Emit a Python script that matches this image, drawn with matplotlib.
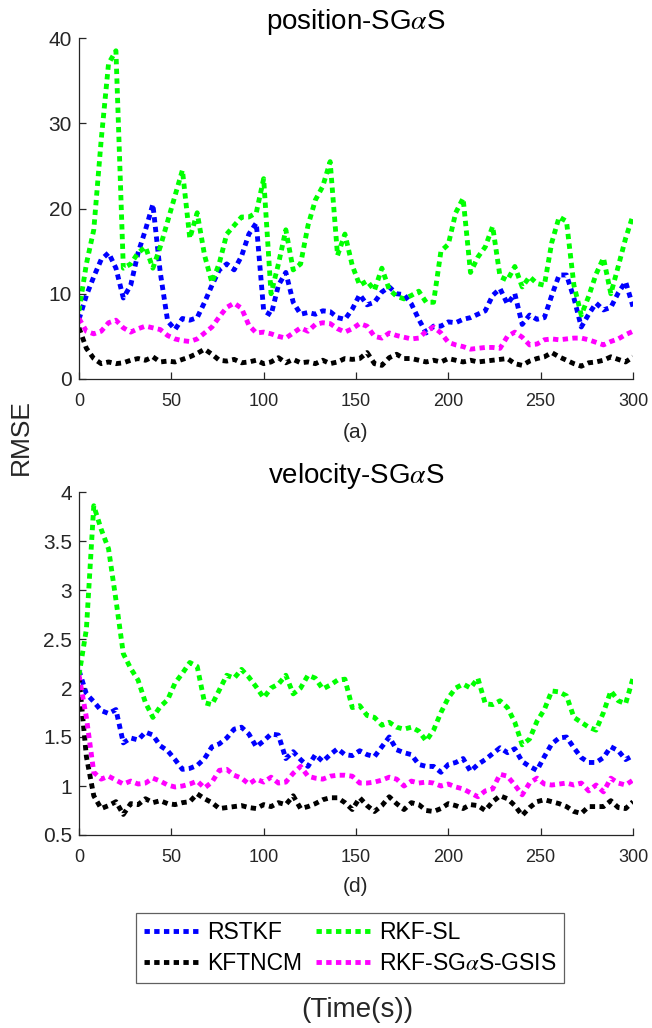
import matplotlib
matplotlib.use("Agg")
import matplotlib.pyplot as plt
from matplotlib.ticker import FormatStrFormatter
import numpy as np

plt.rcParams["font.family"] = ["Liberation Sans", "DejaVu Sans"]
plt.rcParams["mathtext.fontset"] = "stix"

# time axis (s), one sample every 4 s
t = np.arange(0, 301, 4)

# ---- position RMSE ----
pos_rstkf = [
    7, 9.8, 12, 14, 14.8, 13, 9.5, 11, 14.8, 17.5,
    20.5, 12.5, 6.8, 5.8, 7.1, 6.9, 7.2, 9, 11, 12.8,
    13.5, 12.8, 14.4, 17, 18.3, 8, 7.5, 11, 12.5, 9,
    7.6, 7.8, 7.6, 8, 7.9, 7.2, 7, 8.2, 9.9, 8.7,
    9, 10.2, 10.8, 10, 9.9, 8.8, 7, 5.4, 6.2, 6.2,
    6.7, 6.6, 7, 7.2, 7.6, 8, 9.8, 10.6, 8.8, 10,
    6.4, 7.5, 7, 7.2, 9.8, 12.2, 12.2, 9.5, 6.1, 7.6,
    8.9, 8.1, 8.4, 10.1, 11.4, 8.5]
pos_rkfsl = [
    8, 13.5, 17.5, 28, 37, 38.5, 13, 13.5, 14.8, 15.5,
    13, 15.5, 18.5, 21.5, 24.5, 16.5, 19.5, 14.5, 11.3, 13.6,
    17, 18, 19, 19, 19.5, 23.5, 10, 13.5, 17.5, 12.8,
    13.5, 18, 21, 22.6, 25.5, 14.5, 17, 13.3, 11, 11.5,
    10.4, 13, 10.5, 9.7, 9.4, 9.8, 10.3, 9, 9, 15,
    15.8, 19.5, 21.2, 12.5, 14.3, 15.5, 17.9, 12, 11.6, 13.2,
    10.8, 12, 11.2, 11, 16, 19, 18.5, 11, 7.5, 9.7,
    12.3, 14.2, 10, 13.2, 16.5, 19.2]
pos_kftncm = [
    6.0, 3.6, 2.4, 1.8, 2.0, 1.8, 1.9, 2.2, 2.4, 2.2,
    2.6, 2.0, 2.1, 2.0, 2.3, 2.6, 3.0, 3.5, 2.9, 2.2,
    2.1, 2.3, 1.9, 2.0, 2.2, 1.8, 2.0, 2.5, 1.9, 2.3,
    1.9, 2.0, 1.8, 2.2, 1.8, 2.0, 2.4, 2.3, 2.4, 3.1,
    1.8, 1.6, 2.5, 2.9, 2.4, 2.4, 2.2, 2.0, 2.2, 2.0,
    2.4, 2.2, 2.0, 2.2, 2.0, 2.1, 2.2, 2.3, 2.4, 1.8,
    1.6, 2.1, 2.4, 2.6, 3.1, 2.6, 2.2, 1.8, 1.5, 1.9,
    2.0, 2.2, 2.6, 2.3, 2.0, 2.6]
pos_gsis = [
    7.1, 5.6, 5.3, 5.6, 6.6, 6.9, 6.0, 5.5, 5.9, 6.2,
    6.0, 5.8, 5.1, 4.7, 4.5, 4.4, 4.7, 5.4, 6.1, 7.3,
    8.4, 8.9, 8.3, 6.3, 5.4, 5.5, 5.3, 5.0, 4.8, 5.4,
    6.0, 5.6, 6.4, 6.6, 6.5, 5.9, 5.5, 5.9, 6.5, 6.2,
    5.0, 4.8, 5.4, 5.1, 4.9, 4.7, 4.8, 5.6, 6.1, 5.4,
    4.3, 4.0, 3.8, 3.5, 3.6, 3.7, 3.7, 3.6, 5.0, 5.5,
    4.9, 4.0, 4.1, 4.6, 4.7, 4.6, 4.7, 4.8, 4.8, 4.6,
    4.3, 4.0, 4.4, 4.7, 5.2, 5.6]

# ---- velocity RMSE ----
vel_rstkf = [
    2.18, 1.94, 1.86, 1.77, 1.74, 1.78, 1.44, 1.49, 1.47, 1.55,
    1.52, 1.41, 1.36, 1.27, 1.17, 1.18, 1.21, 1.28, 1.40, 1.43,
    1.49, 1.58, 1.60, 1.53, 1.40, 1.46, 1.53, 1.52, 1.28, 1.35,
    1.27, 1.20, 1.32, 1.25, 1.32, 1.38, 1.32, 1.31, 1.36, 1.32,
    1.30, 1.40, 1.50, 1.37, 1.34, 1.32, 1.22, 1.20, 1.20, 1.14,
    1.22, 1.24, 1.28, 1.15, 1.22, 1.27, 1.33, 1.39, 1.34, 1.38,
    1.25, 1.20, 1.16, 1.30, 1.43, 1.49, 1.50, 1.39, 1.29, 1.24,
    1.24, 1.29, 1.40, 1.36, 1.27, 1.31]
vel_rkfsl = [
    2.13, 2.60, 3.86, 3.62, 3.42, 2.90, 2.35, 2.20, 2.08, 1.85,
    1.70, 1.81, 1.88, 2.05, 2.15, 2.26, 2.22, 1.85, 1.83, 1.98,
    2.13, 2.10, 2.19, 2.11, 2.01, 1.90, 2.00, 2.04, 2.13, 1.94,
    2.00, 2.13, 2.10, 1.99, 2.03, 2.08, 2.09, 1.80, 1.82, 1.72,
    1.70, 1.62, 1.65, 1.60, 1.58, 1.60, 1.56, 1.46, 1.57, 1.75,
    1.90, 2.00, 2.04, 2.00, 2.10, 1.84, 1.83, 1.87, 1.80, 1.65,
    1.42, 1.48, 1.66, 1.78, 1.97, 1.96, 1.92, 1.70, 1.65, 1.60,
    1.57, 1.75, 1.97, 1.87, 1.84, 2.10]
vel_kftncm = [
    2.11, 1.30, 0.90, 0.77, 0.80, 0.84, 0.71, 0.82, 0.81, 0.87,
    0.83, 0.85, 0.82, 0.81, 0.83, 0.84, 0.92, 0.87, 0.83, 0.77,
    0.78, 0.79, 0.80, 0.78, 0.77, 0.81, 0.79, 0.83, 0.81, 0.90,
    0.77, 0.79, 0.82, 0.86, 0.88, 0.88, 0.83, 0.76, 0.88, 0.80,
    0.74, 0.80, 0.89, 0.82, 0.76, 0.83, 0.81, 0.75, 0.74, 0.77,
    0.82, 0.80, 0.77, 0.81, 0.80, 0.75, 0.84, 0.90, 0.87, 0.80,
    0.70, 0.78, 0.84, 0.86, 0.84, 0.82, 0.79, 0.74, 0.72, 0.79,
    0.79, 0.79, 0.85, 0.78, 0.77, 0.84]
vel_gsis = [
    2.13, 1.70, 1.14, 1.07, 1.10, 1.06, 1.02, 1.05, 1.02, 1.03,
    1.08, 1.05, 1.01, 0.99, 1.00, 1.02, 1.05, 0.98, 1.04, 1.16,
    1.17, 1.11, 1.08, 1.02, 1.07, 1.04, 1.09, 1.03, 1.04, 1.13,
    1.20, 1.10, 1.08, 1.07, 1.10, 1.11, 1.11, 1.10, 1.03, 1.03,
    1.04, 1.06, 1.09, 1.07, 1.00, 1.05, 1.03, 1.04, 1.03, 1.00,
    1.02, 0.99, 0.97, 0.93, 0.89, 0.95, 0.97, 1.12, 1.10, 1.01,
    0.91, 1.03, 1.08, 1.02, 1.01, 1.02, 1.03, 1.01, 1.03, 0.95,
    1.01, 0.94, 1.08, 1.03, 1.01, 1.06]

labels = ["RSTKF", "RKF-SL", "KFTNCM", r"RKF-SG$\alpha$S-GSIS"]
colors = ["#0000ff", "#00ff00", "#000000", "#ff00ff"]

TXT = "#262626"
DASH = (0, (1.1, 0.9))

fig = plt.figure(figsize=(6.52, 10.28), dpi=100)
ax1 = fig.add_axes([79 / 652, 1 - 379 / 1028, 554 / 652, 341 / 1028])
ax2 = fig.add_axes([79 / 652, 1 - 835 / 1028, 554 / 652, 343 / 1028])


def draw_panel(ax, series, ylim, yticks, title):
    handles = []
    for y, c, lab in zip(series, colors, labels):
        h, = ax.plot(t, y, color=c, lw=3.5, linestyle=DASH,
                     dash_capstyle="butt", solid_joinstyle="miter", label=lab)
        handles.append(h)
    ax.set_xlim(0, 300)
    ax.set_ylim(*ylim)
    ax.set_xticks(np.arange(0, 301, 50))
    ax.set_yticks(yticks)
    ax.yaxis.set_major_formatter(FormatStrFormatter("%g"))
    for s in ["top", "right"]:
        ax.spines[s].set_visible(False)
    for s in ["left", "bottom"]:
        ax.spines[s].set_color(TXT)
        ax.spines[s].set_linewidth(0.9)
    ax.tick_params(direction="in", length=5, width=0.9, color=TXT,
                   labelcolor=TXT)
    ax.tick_params(axis="x", pad=10, labelsize=13)
    ax.tick_params(axis="y", pad=5, labelsize=15)
    ax.set_title(title, fontsize=20, pad=6.5)
    return handles


handles = draw_panel(ax1, [pos_rstkf, pos_rkfsl, pos_kftncm, pos_gsis],
                     (0, 40), np.arange(0, 41, 10), r"position-SG$\alpha$S")
draw_panel(ax2, [vel_rstkf, vel_rkfsl, vel_kftncm, vel_gsis],
           (0.5, 4), np.arange(0.5, 4.01, 0.5), r"velocity-SG$\alpha$S")

fig.text(356 / 652, 1 - 432 / 1028, "(a)", ha="center", va="center",
         fontsize=15, color=TXT)
fig.text(356 / 652, 1 - 887 / 1028, "(d)", ha="center", va="center",
         fontsize=15, color=TXT)
fig.text(21 / 652, 1 - 437 / 1028, "RMSE", ha="center", va="center",
         rotation=90, fontsize=19, color=TXT)
fig.text(357 / 652, 1 - 1010 / 1028, "(Time(s))", ha="center", va="center",
         fontsize=20, color=TXT)

# MATLAB fills legend rows first; matplotlib fills columns first
order = [0, 2, 1, 3]
leg = fig.legend([handles[i] for i in order], [labels[i] for i in order],
                 ncol=2, loc="upper left",
                 bbox_to_anchor=(136 / 652, 1 - 913 / 1028),
                 borderaxespad=0, fontsize=16.5, handlelength=2.5,
                 handletextpad=0.25, columnspacing=0.6, labelspacing=0.35,
                 borderpad=0.35, fancybox=False, framealpha=1)
leg.get_frame().set_edgecolor("#606060")
leg.get_frame().set_linewidth(0.9)

fig.savefig("out.png", dpi=100)
